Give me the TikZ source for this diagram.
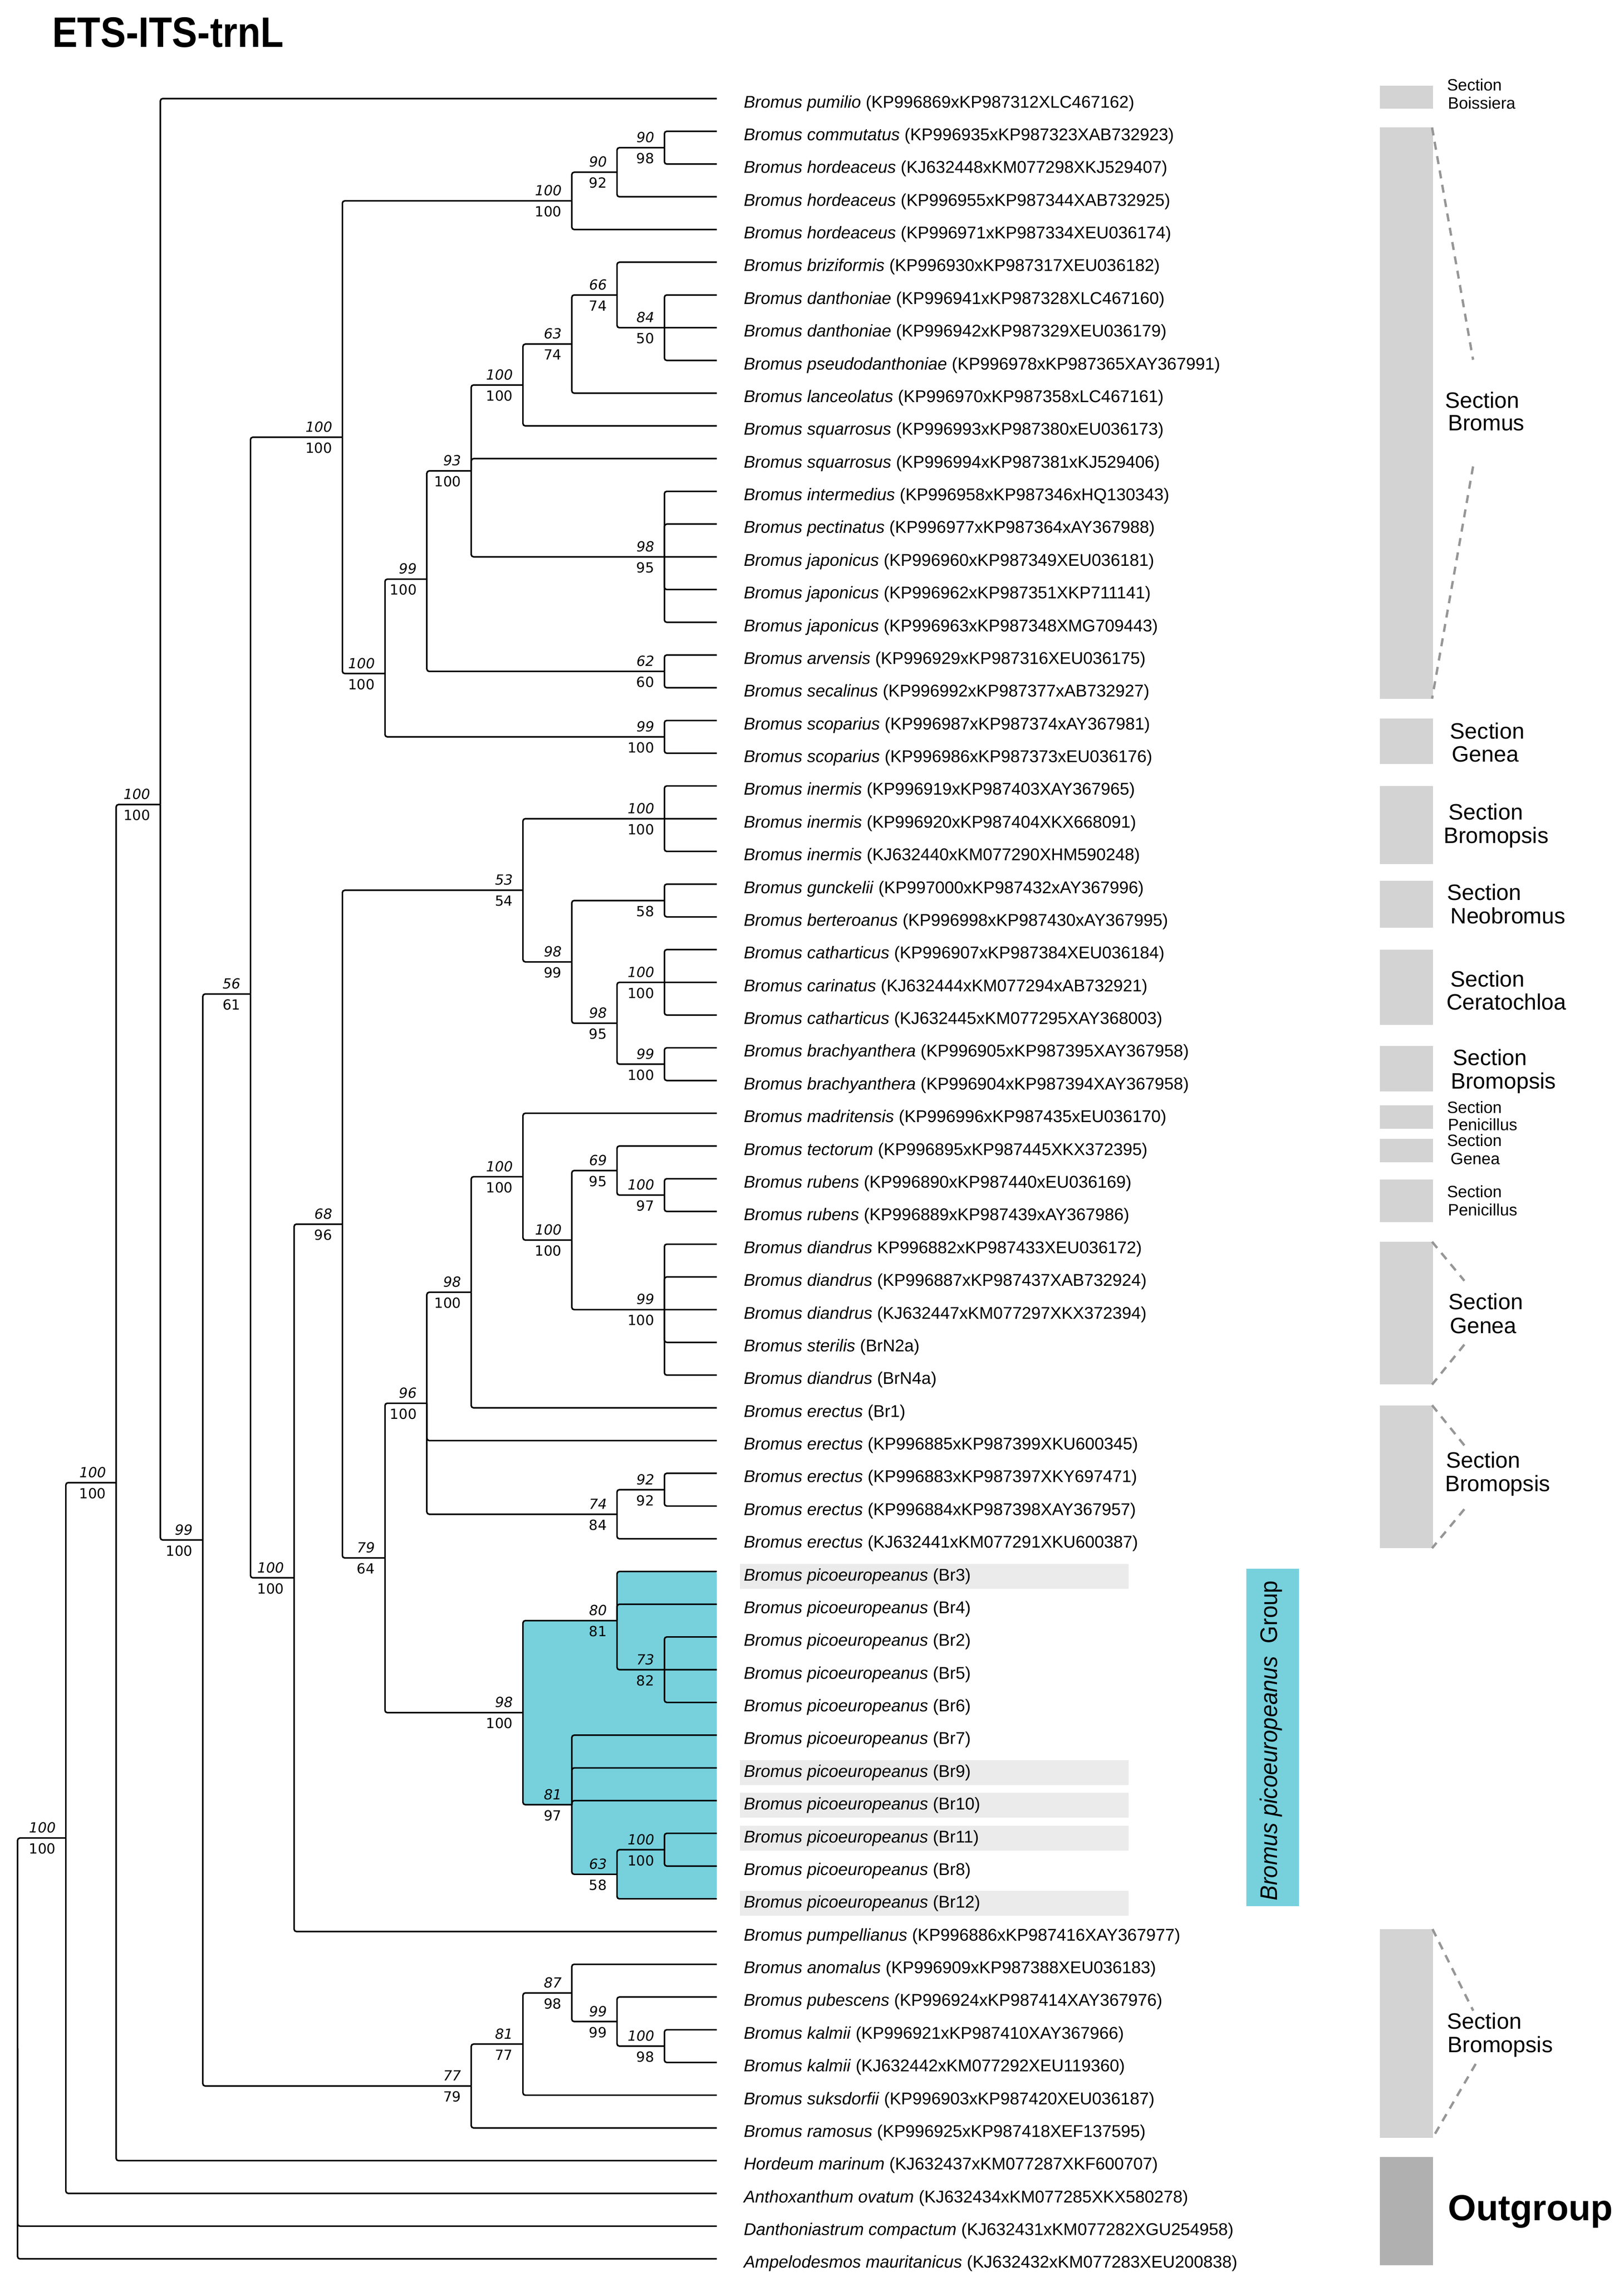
\documentclass[tikz,border=0pt]{standalone}
\usepackage{fontspec}
\setmainfont{Liberation Sans}
\newfontfamily\numfont{DejaVu Sans}
\definecolor{picC}{RGB}{119,209,221}
\definecolor{barC}{RGB}{211,211,211}
\definecolor{ogC}{RGB}{176,176,176}
\definecolor{hlC}{RGB}{235,235,235}
\definecolor{dashC}{RGB}{150,150,150}
\newcommand{\tipy}[1]{67.8+22.51*(#1-1)}
\newcommand{\tip}[2]{\coordinate (t#1) at (493,{\tipy{#1}});\node[taxon] (l#1) at (511.4,{\tipy{#1}+6.3}) {#2};}
\newcommand{\kids}[2]{\foreach \c in {#2}{\draw[br] (#1) |- (\c);}}
\newcommand{\bsup}[3]{\node[numtop] (#1u) at ([shift={(-6.8,-3.6)}]#1) {#2};\node[numbot] (#1d) at ([shift={(-6.8,10.9)}]#1) {#3};}
\newcommand{\hlrow}[1]{\fill[hlC] (508.9,{\tipy{#1}-5.35}) rectangle (776.4,{\tipy{#1}+11.75});}
\begin{document}
\begin{tikzpicture}[x=1pt,y=-1pt,
  br/.style={line width=1.05pt, rounded corners=1.6pt},
  taxon/.style={anchor=base west, inner sep=0pt, font=\fontsize{11.7}{14}\selectfont},
  numtop/.style={anchor=base east, inner sep=0pt, font=\numfont\fontsize{9.6}{11}\selectfont\itshape},
  numbot/.style={anchor=base east, inner sep=0pt, font=\numfont\fontsize{9.6}{11}\selectfont},
  secbig/.style={anchor=base west, inner sep=0pt, font=\fontsize{15.3}{17}\selectfont},
  secsmall/.style={anchor=base west, inner sep=0pt, font=\fontsize{11.3}{13}\selectfont},
  dsh/.style={dashC, line width=1.6pt, dash pattern=on 5.5pt off 4.5pt},
]
\fill[white] (0,0) rectangle (1117,1568.7);
\useasboundingbox (0,0) rectangle (1117,1568.7);

% title
\node[anchor=base west, inner sep=0pt, font=\bfseries\fontsize{29.3}{32}\selectfont] (title) at (35.7,32.3) {\scalebox{0.89}[1]{ETS-ITS-trnL}};

% section bars
\fill[barC] (949,59.0) rectangle (985.5,74.8);
\fill[barC] (949,87.7) rectangle (985.5,480.5);
\fill[barC] (949,494.1) rectangle (985.5,525.5);
\fill[barC] (949,540.5) rectangle (985.5,594.1);
\fill[barC] (949,605.8) rectangle (985.5,638.0);
\fill[barC] (949,653.3) rectangle (985.5,704.7);
\fill[barC] (949,719.4) rectangle (985.5,750.5);
\fill[barC] (949,760.1) rectangle (985.5,776.2);
\fill[barC] (949,783.3) rectangle (985.5,799.4);
\fill[barC] (949,811.1) rectangle (985.5,840.4);
\fill[barC] (949,854.0) rectangle (985.5,952.2);
\fill[barC] (949,966.4) rectangle (985.5,1064.7);
\fill[barC] (949,1326.7) rectangle (985.5,1470.4);
\fill[ogC] (949,1483.3) rectangle (985.5,1557.9);

% dashed brackets
\coordinate (d1a) at (985,87.7);   \coordinate (d1b) at (1013.2,247.4);
\coordinate (d1c) at (1013.2,320.8); \coordinate (d1d) at (985,480.5);
\draw[dsh] (d1a) -- (d1b); \draw[dsh] (d1c) -- (d1d);
\coordinate (d2a) at (985,854.0);  \coordinate (d2b) at (1007.2,880.8);
\coordinate (d2c) at (1007.2,924.7); \coordinate (d2d) at (985,952.2);
\draw[dsh] (d2a) -- (d2b); \draw[dsh] (d2c) -- (d2d);
\coordinate (d3a) at (985,966.4);  \coordinate (d3b) at (1007.2,994.0);
\coordinate (d3c) at (1007.2,1037.9); \coordinate (d3d) at (985,1064.7);
\draw[dsh] (d3a) -- (d3b); \draw[dsh] (d3c) -- (d3d);
\coordinate (d4a) at (985.3,1326.7); \coordinate (d4b) at (1013.3,1382.8);
\coordinate (d4c) at (1015.0,1419.4); \coordinate (d4d) at (985.3,1470.4);
\draw[dsh] (d4a) -- (d4b); \draw[dsh] (d4c) -- (d4d);

% section labels
\node[secsmall] (s1a) at (995.1,62.5) {Section};
\node[secsmall] (s1b) at (995.7,75.0) {Boissiera};
\node[secbig] (s2a) at (993.9,280.7) {Section};
\node[secbig] (s2b) at (995.7,296.0) {Bromus};
\node[secbig] (s3a) at (997.3,508.1) {Section};
\node[secbig] (s3b) at (998.5,523.8) {Genea};
\node[secbig] (s4a) at (996.3,563.9) {Section};
\node[secbig] (s4b) at (992.7,579.9) {Bromopsis};
\node[secbig] (s5a) at (995.1,619.2) {Section};
\node[secbig] (s5b) at (997.5,635.3) {Neobromus};
\node[secbig] (s6a) at (997.5,678.5) {Section};
\node[secbig] (s6b) at (994.7,694.5) {Ceratochloa};
\node[secbig] (s7a) at (999.1,732.7) {Section};
\node[secbig] (s7b) at (997.8,748.7) {Bromopsis};
\node[secsmall] (s8a) at (995.1,765.5) {Section};
\node[secsmall] (s8b) at (995.7,777.3) {Penicillus};
\node[secsmall] (s9a) at (995.1,788.3) {Section};
\node[secsmall] (s9b) at (997.5,800.9) {Genea};
\node[secsmall] (s10a) at (995.1,823.4) {Section};
\node[secsmall] (s10b) at (995.7,835.9) {Penicillus};
\node[secbig] (s11a) at (996.3,900.6) {Section};
\node[secbig] (s11b) at (997.0,917.0) {Genea};
\node[secbig] (s12a) at (994.5,1009.5) {Section};
\node[secbig] (s12b) at (993.7,1025.5) {Bromopsis};
\node[secbig] (s13a) at (995.3,1395.4) {Section};
\node[secbig] (s13b) at (995.6,1411.4) {Bromopsis};
\node[anchor=base west, inner sep=0pt, font=\bfseries\fontsize{24.9}{27}\selectfont] (og) at (995.8,1527) {Outgroup};

% picoeuropeanus group box
\node[fill=picC, minimum width=36.2pt, minimum height=231.9pt, inner sep=0pt] (pgbox) at (875.4,1194.85) {};
\node[rotate=90, inner sep=0pt, font=\fontsize{16.5}{18}\selectfont] (pgtext) at (874.2,1197.1) {\scalebox{0.94}[1]{\textit{Bromus picoeuropeanus}\ \ Group}};

% highlighted labels
\hlrow{46}\hlrow{52}\hlrow{53}\hlrow{54}\hlrow{56}

% tips
\tip{1}{\textit{Bromus pumilio} (KP996869xKP987312XLC467162)}
\tip{2}{\textit{Bromus commutatus} (KP996935xKP987323XAB732923)}
\tip{3}{\textit{Bromus hordeaceus} (KJ632448xKM077298XKJ529407)}
\tip{4}{\textit{Bromus hordeaceus} (KP996955xKP987344XAB732925)}
\tip{5}{\textit{Bromus hordeaceus} (KP996971xKP987334XEU036174)}
\tip{6}{\textit{Bromus briziformis} (KP996930xKP987317XEU036182)}
\tip{7}{\textit{Bromus danthoniae} (KP996941xKP987328XLC467160)}
\tip{8}{\textit{Bromus danthoniae} (KP996942xKP987329XEU036179)}
\tip{9}{\textit{Bromus pseudodanthoniae} (KP996978xKP987365XAY367991)}
\tip{10}{\textit{Bromus lanceolatus} (KP996970xKP987358xLC467161)}
\tip{11}{\textit{Bromus squarrosus} (KP996993xKP987380xEU036173)}
\tip{12}{\textit{Bromus squarrosus} (KP996994xKP987381xKJ529406)}
\tip{13}{\textit{Bromus intermedius} (KP996958xKP987346xHQ130343)}
\tip{14}{\textit{Bromus pectinatus} (KP996977xKP987364xAY367988)}
\tip{15}{\textit{Bromus japonicus} (KP996960xKP987349XEU036181)}
\tip{16}{\textit{Bromus japonicus} (KP996962xKP987351XKP711141)}
\tip{17}{\textit{Bromus japonicus} (KP996963xKP987348XMG709443)}
\tip{18}{\textit{Bromus arvensis} (KP996929xKP987316XEU036175)}
\tip{19}{\textit{Bromus secalinus} (KP996992xKP987377xAB732927)}
\tip{20}{\textit{Bromus scoparius} (KP996987xKP987374xAY367981)}
\tip{21}{\textit{Bromus scoparius} (KP996986xKP987373xEU036176)}
\tip{22}{\textit{Bromus inermis} (KP996919xKP987403XAY367965)}
\tip{23}{\textit{Bromus inermis} (KP996920xKP987404XKX668091)}
\tip{24}{\textit{Bromus inermis} (KJ632440xKM077290XHM590248)}
\tip{25}{\textit{Bromus gunckelii} (KP997000xKP987432xAY367996)}
\tip{26}{\textit{Bromus berteroanus} (KP996998xKP987430xAY367995)}
\tip{27}{\textit{Bromus catharticus} (KP996907xKP987384XEU036184)}
\tip{28}{\textit{Bromus carinatus} (KJ632444xKM077294xAB732921)}
\tip{29}{\textit{Bromus catharticus} (KJ632445xKM077295XAY368003)}
\tip{30}{\textit{Bromus brachyanthera} (KP996905xKP987395XAY367958)}
\tip{31}{\textit{Bromus brachyanthera} (KP996904xKP987394XAY367958)}
\tip{32}{\textit{Bromus madritensis} (KP996996xKP987435xEU036170)}
\tip{33}{\textit{Bromus tectorum} (KP996895xKP987445XKX372395)}
\tip{34}{\textit{Bromus rubens} (KP996890xKP987440xEU036169)}
\tip{35}{\textit{Bromus rubens} (KP996889xKP987439xAY367986)}
\tip{36}{\textit{Bromus diandrus} KP996882xKP987433XEU036172)}
\tip{37}{\textit{Bromus diandrus} (KP996887xKP987437XAB732924)}
\tip{38}{\textit{Bromus diandrus} (KJ632447xKM077297XKX372394)}
\tip{39}{\textit{Bromus sterilis} (BrN2a)}
\tip{40}{\textit{Bromus diandrus} (BrN4a)}
\tip{41}{\textit{Bromus erectus} (Br1)}
\tip{42}{\textit{Bromus erectus} (KP996885xKP987399XKU600345)}
\tip{43}{\textit{Bromus erectus} (KP996883xKP987397XKY697471)}
\tip{44}{\textit{Bromus erectus} (KP996884xKP987398XAY367957)}
\tip{45}{\textit{Bromus erectus} (KJ632441xKM077291XKU600387)}
\tip{46}{\textit{Bromus picoeuropeanus} (Br3)}
\tip{47}{\textit{Bromus picoeuropeanus} (Br4)}
\tip{48}{\textit{Bromus picoeuropeanus} (Br2)}
\tip{49}{\textit{Bromus picoeuropeanus} (Br5)}
\tip{50}{\textit{Bromus picoeuropeanus} (Br6)}
\tip{51}{\textit{Bromus picoeuropeanus} (Br7)}
\tip{52}{\textit{Bromus picoeuropeanus} (Br9)}
\tip{53}{\textit{Bromus picoeuropeanus} (Br10)}
\tip{54}{\textit{Bromus picoeuropeanus} (Br11)}
\tip{55}{\textit{Bromus picoeuropeanus} (Br8)}
\tip{56}{\textit{Bromus picoeuropeanus} (Br12)}
\tip{57}{\textit{Bromus pumpellianus} (KP996886xKP987416XAY367977)}
\tip{58}{\textit{Bromus anomalus} (KP996909xKP987388XEU036183)}
\tip{59}{\textit{Bromus pubescens} (KP996924xKP987414XAY367976)}
\tip{60}{\textit{Bromus kalmii} (KP996921xKP987410XAY367966)}
\tip{61}{\textit{Bromus kalmii} (KJ632442xKM077292XEU119360)}
\tip{62}{\textit{Bromus suksdorfii} (KP996903xKP987420XEU036187)}
\tip{63}{\textit{Bromus ramosus} (KP996925xKP987418XEF137595)}
\tip{64}{\textit{Hordeum marinum} (KJ632437xKM077287XKF600707)}
\tip{65}{\textit{Anthoxanthum ovatum} (KJ632434xKM077285XKX580278)}
\tip{66}{\textit{Danthoniastrum compactum} (KJ632431xKM077282XGU254958)}
\tip{67}{\textit{Ampelodesmos mauritanicus} (KJ632432xKM077283XEU200838)}

% internal nodes
\coordinate (nR) at (12.1,1408.75);
\coordinate (nA) at (45.3,1264.03);
\coordinate (nB) at (79.9,1019.62);
\coordinate (nC) at (110.3,553.3);
\coordinate (nD) at (139.5,1059.09);
\coordinate (nE) at (172.3,683.6);
\coordinate (nF) at (235.5,300.67);
\coordinate (nH) at (393.3,138.14);
\coordinate (nI) at (424.4,118.45);
\coordinate (nJ) at (457,101.565);
\coordinate (nL) at (264.8,463.2);
\coordinate (nK) at (293.6,398.3);
\coordinate (nN) at (324.1,323.85);
\coordinate (nP) at (359.7,264.76);
\coordinate (nS) at (393.3,236.63);
\coordinate (nT) at (424.4,202.86);
\coordinate (nU) at (457,225.37);
\coordinate (nQ) at (457,382.94);
\coordinate (nO) at (457,461.73);
\coordinate (nM) at (457,506.75);
\coordinate (nG) at (202.3,1085.1);
\coordinate (nV) at (235.5,841.85);
\coordinate (nW) at (359.7,612.26);
\coordinate (nW1) at (457,563.02);
\coordinate (nW2) at (393.3,661.5);
\coordinate (nW3) at (457,619.3);
\coordinate (nW4) at (424.4,703.71);
\coordinate (nW5) at (457,675.57);
\coordinate (nW6) at (457,731.85);
\coordinate (nY) at (264.8,1071.43);
\coordinate (nZ) at (293.6,965.03);
\coordinate (n98) at (324.1,888.71);
\coordinate (nMad) at (359.7,809.23);
\coordinate (nB100) at (393.3,852.84);
\coordinate (n69) at (424.4,805.0);
\coordinate (nRub) at (457,821.89);
\coordinate (nDi) at (457,900.67);
\coordinate (n74) at (424.4,1041.36);
\coordinate (n92) at (457,1024.48);
\coordinate (nPic) at (359.7,1177.83);
\coordinate (n80) at (424.4,1114.52);
\coordinate (n73) at (457,1148.28);
\coordinate (n81) at (393.3,1241.13);
\coordinate (n63) at (424.4,1288.97);
\coordinate (nC100) at (457,1272.09);
\coordinate (nX) at (324.1,1434.58);
\coordinate (nX81) at (359.7,1405.74);
\coordinate (n87) at (393.3,1370.57);
\coordinate (n99) at (424.4,1390.27);
\coordinate (nD100) at (457,1407.15);

% cyan clade
\fill[picC, rounded corners=1.6pt] (n80 |- t46) -- (t46) -- (t56) -- (n63 |- t56) -- (n63) -- (n81 |- n63) -- (n81) -- (nPic |- n81) -- (nPic |- n80) -- (n80) -- cycle;

% edges
\kids{nR}{nA,t66,t67}
\kids{nA}{nB,t65}
\kids{nB}{nC,t64}
\kids{nC}{t1,nD}
\kids{nD}{nE,nX}
\kids{nE}{nF,nG}
\kids{nF}{nH,nL}
\kids{nH}{nI,t5}
\kids{nI}{nJ,t4}
\kids{nJ}{t2,t3}
\kids{nL}{nK,nM}
\kids{nK}{nN,nO}
\kids{nN}{nP,t12,nQ}
\kids{nP}{nS,t11}
\kids{nS}{nT,t10}
\kids{nT}{t6,nU}
\kids{nU}{t7,t9}\draw[br] (nU) -- (t8);
\kids{nQ}{t13,t14,t16,t17}\draw[br] (nQ) -- (t15);
\kids{nO}{t18,t19}
\kids{nM}{t20,t21}
\kids{nG}{nV,t57}
\kids{nV}{nW,nY}
\kids{nW}{nW1,nW2}
\kids{nW1}{t22,t24}\draw[br] (nW1) -- (t23);
\kids{nW2}{nW3,nW4}
\kids{nW3}{t25,t26}
\kids{nW4}{nW5,nW6}
\kids{nW5}{t27,t29}\draw[br] (nW5) -- (t28);
\kids{nW6}{t30,t31}
\kids{nY}{nZ,nPic}
\kids{nZ}{n98,t42,n74}
\kids{n98}{nMad,t41}
\kids{nMad}{t32,nB100}
\kids{nB100}{n69,nDi}
\kids{n69}{t33,nRub}
\kids{nRub}{t34,t35}
\kids{nDi}{t36,t37,t39,t40}\draw[br] (nDi) -- (t38);
\kids{n74}{n92,t45}
\kids{n92}{t43,t44}
\kids{nPic}{n80,n81}
\kids{n80}{t46,t47,n73}
\kids{n73}{t48,t50}\draw[br] (n73) -- (t49);
\kids{n81}{t51,t52,t53,n63}
\kids{n63}{nC100,t56}
\kids{nC100}{t54,t55}
\kids{nX}{nX81,t63}
\kids{nX81}{n87,t62}
\kids{n87}{t58,n99}
\kids{n99}{t59,nD100}
\kids{nD100}{t60,t61}

% support values
\bsup{nA}{100}{100}
\bsup{nB}{100}{100}
\bsup{nC}{100}{100}
\bsup{nD}{99}{100}
\bsup{nE}{56}{61}
\bsup{nF}{100}{100}
\bsup{nH}{100}{100}
\bsup{nI}{90}{92}
\bsup{nJ}{90}{98}
\bsup{nL}{100}{100}
\bsup{nK}{99}{100}
\bsup{nN}{93}{100}
\bsup{nP}{100}{100}
\bsup{nS}{63}{74}
\bsup{nT}{66}{74}
\bsup{nU}{84}{50}
\bsup{nQ}{98}{95}
\bsup{nO}{62}{60}
\bsup{nM}{99}{100}
\bsup{nG}{100}{100}
\bsup{nV}{68}{96}
\bsup{nW}{53}{54}
\bsup{nW1}{100}{100}
\bsup{nW2}{98}{99}
\node[numbot] (nW3d) at ([shift={(-6.8,10.9)}]nW3) {58};
\bsup{nW4}{98}{95}
\bsup{nW5}{100}{100}
\bsup{nW6}{99}{100}
\bsup{nY}{79}{64}
\bsup{nZ}{96}{100}
\bsup{n98}{98}{100}
\bsup{nMad}{100}{100}
\bsup{nB100}{100}{100}
\bsup{n69}{69}{95}
\bsup{nRub}{100}{97}
\bsup{nDi}{99}{100}
\bsup{n74}{74}{84}
\bsup{n92}{92}{92}
\bsup{nPic}{98}{100}
\bsup{n80}{80}{81}
\bsup{n73}{73}{82}
\bsup{n81}{81}{97}
\bsup{n63}{63}{58}
\bsup{nC100}{100}{100}
\bsup{nX}{77}{79}
\bsup{nX81}{81}{77}
\bsup{n87}{87}{98}
\bsup{n99}{99}{99}
\bsup{nD100}{100}{98}
\end{tikzpicture}
\end{document}
